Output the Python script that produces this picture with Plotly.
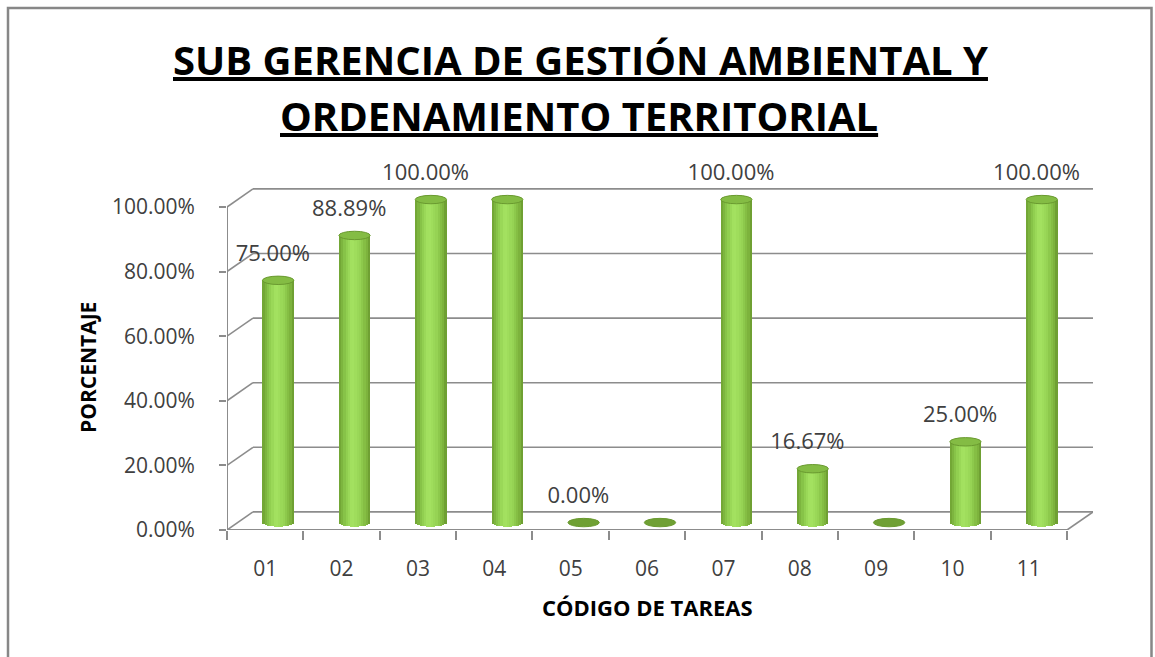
import numpy as np
import plotly.graph_objects as go

# ---------------- data ----------------
categories = ["01", "02", "03", "04", "05", "06", "07", "08", "09", "10", "11"]
values = [75.00, 88.89, 100.00, 100.00, 0.00, 0.00, 100.00, 16.67, 0.00, 25.00, 100.00]
label_text = ["75.00%", "88.89%", "100.00%", "", "0.00%", "", "100.00%", "16.67%", "", "25.00%", "100.00%"]
y_ticks = [0, 20, 40, 60, 80, 100]
y_tick_labels = ["0.00%", "20.00%", "40.00%", "60.00%", "80.00%", "100.00%"]

title_line1 = "SUB GERENCIA DE GESTIÓN AMBIENTAL Y"
title_line2 = "ORDENAMIENTO TERRITORIAL"
x_title = "CÓDIGO DE TAREAS"
y_title = "PORCENTAJE"

# ---------------- style / geometry ----------------
W, H = 1155, 657
L, R, T, B = 227, 62, 150, 127
PX_PER_UNIT = 3.23
Y_MAX = (H - T - B) / PX_PER_UNIT
FONT = "Open Sans, Carlito, Calibri, sans-serif"
GRID = "#8c8c8c"
DX = 0.34      # 3D depth in category units
DY = 5.6       # 3D depth in % units
BAR_W = 0.41
SHIFT = DX / 2
BASE = 2.3
CAP_H = 2.6
N_STRIPS = 14


def px_x(px):
    return (px - L) / (W - L - R)


def px_y(py):
    return (H - B - py) / (H - T - B)


xpos = np.arange(len(categories))

fig = go.Figure()

# cylinder bodies: vertical strips with a horizontal shading gradient
stops = [(-1.0, (110, 160, 50)), (-0.55, (142, 204, 78)), (-0.15, (166, 228, 98)),
         (0.35, (150, 212, 84)), (0.8, (124, 178, 60)), (1.0, (104, 150, 46))]


def shade(u):
    for (u0, c0), (u1, c1) in zip(stops[:-1], stops[1:]):
        if u0 <= u <= u1:
            t = (u - u0) / (u1 - u0)
            c = [round(a + (b - a) * t) for a, b in zip(c0, c1)]
            return "rgb(%d,%d,%d)" % tuple(c)
    return "rgb(%d,%d,%d)" % stops[-1][1]


sw = BAR_W / N_STRIPS
for k in range(N_STRIPS):
    u = -1 + (2 * k + 1) / N_STRIPS
    drop = (CAP_H / 2) * np.sqrt(max(0.0, 1 - u * u))
    heights = [v + drop if v > 0 else 0 for v in values]
    fig.add_trace(go.Bar(
        x=xpos, y=heights, base=BASE - drop,
        width=sw * 1.08, offset=SHIFT - BAR_W / 2 + k * sw - sw * 0.04,
        marker=dict(color=shade(u), line=dict(width=0)),
        hoverinfo="skip", showlegend=False,
    ))

# data labels
fig.add_trace(go.Scatter(
    x=xpos + SHIFT - 0.07, y=[v + BASE + 7.7 for v in values],
    text=label_text, mode="text", textposition="middle center",
    textfont=dict(family=FONT, size=22, color="#404040"),
    cliponaxis=False, hoverinfo="skip", showlegend=False,
))

shapes = []
x_left = -0.5
x_right = len(categories) - 0.5
# back wall gridlines + side wall diagonals
for v in y_ticks:
    shapes.append(dict(type="line", xref="x", yref="y", x0=x_left + DX, x1=x_right + DX,
                       y0=v + DY, y1=v + DY, line=dict(color=GRID, width=1.6), layer="below"))
    shapes.append(dict(type="line", xref="x", yref="y", x0=x_left, x1=x_left + DX,
                       y0=v, y1=v + DY, line=dict(color=GRID, width=1.6), layer="below"))
# front axis lines and floor
shapes.append(dict(type="line", xref="x", yref="y", x0=x_left, x1=x_left, y0=0, y1=100,
                   line=dict(color=GRID, width=2), layer="below"))
shapes.append(dict(type="line", xref="x", yref="y", x0=x_left, x1=x_right, y0=0, y1=0,
                   line=dict(color=GRID, width=2), layer="below"))
shapes.append(dict(type="line", xref="x", yref="y", x0=x_right, x1=x_right + DX, y0=0, y1=DY,
                   line=dict(color=GRID, width=1.6), layer="below"))
# cylinder caps
for xi, v in zip(xpos, values):
    shapes.append(dict(type="circle", xref="x", yref="y",
                       x0=xi + SHIFT - BAR_W / 2, x1=xi + SHIFT + BAR_W / 2,
                       y0=v + BASE - CAP_H / 2, y1=v + BASE + CAP_H / 2,
                       fillcolor="#84bc44" if v > 0 else "#6fa034",
                       line=dict(color="#6a9a30", width=1), layer="above"))
# outer frame
shapes.append(dict(type="rect", xref="paper", yref="paper",
                   x0=px_x(8), x1=px_x(1151.5), y0=px_y(670), y1=px_y(8),
                   line=dict(color="#878787", width=2.5), fillcolor="rgba(0,0,0,0)", layer="above"))

annotations = [
    dict(text="<b><u>%s</u></b>" % title_line1, x=px_x(580), y=px_y(60), xref="paper", yref="paper",
         showarrow=False, xanchor="center", yanchor="middle",
         font=dict(family=FONT, size=40, color="#000000")),
    dict(text="<b><u>%s</u></b>" % title_line2, x=px_x(579), y=px_y(115), xref="paper", yref="paper",
         showarrow=False, xanchor="center", yanchor="middle",
         font=dict(family=FONT, size=40, color="#000000")),
    dict(text="<b>%s</b>" % x_title, x=px_x(647), y=px_y(607), xref="paper", yref="paper",
         showarrow=False, xanchor="center", yanchor="middle",
         font=dict(family=FONT, size=22, color="#000000")),
    dict(text="<b>%s</b>" % y_title, x=px_x(88), y=px_y(368), xref="paper", yref="paper",
         showarrow=False, xanchor="center", yanchor="middle", textangle=-90,
         font=dict(family=FONT, size=21, color="#000000")),
]

fig.update_layout(
    width=W, height=H,
    margin=dict(l=L, r=R, t=T, b=B, pad=0),
    paper_bgcolor="white", plot_bgcolor="white",
    barmode="overlay", bargap=0,
    showlegend=False,
    shapes=shapes, annotations=annotations,
    xaxis=dict(range=[x_left, x_right + DX], tickvals=list(xpos), ticktext=categories,
               ticks="", showgrid=False, zeroline=False, showline=False,
               tickfont=dict(family=FONT, size=21, color="#404040"),
               ticklabelstandoff=24,
               minor=dict(tickvals=[x + 0.5 for x in [-1] + list(xpos)], ticks="outside",
                          ticklen=9, tickwidth=2, tickcolor=GRID, showgrid=False),
               fixedrange=True),
    yaxis=dict(range=[0, Y_MAX], tickvals=y_ticks, ticktext=y_tick_labels,
               ticks="outside", ticklen=7, tickwidth=2, tickcolor=GRID,
               showgrid=False, zeroline=False, showline=False,
               tickfont=dict(family=FONT, size=21, color="#404040"),
               ticklabelstandoff=20, fixedrange=True),
)

fig.write_html("out.html", config={"displayModeBar": False},
               post_script="document.body.style.margin='0px';")
